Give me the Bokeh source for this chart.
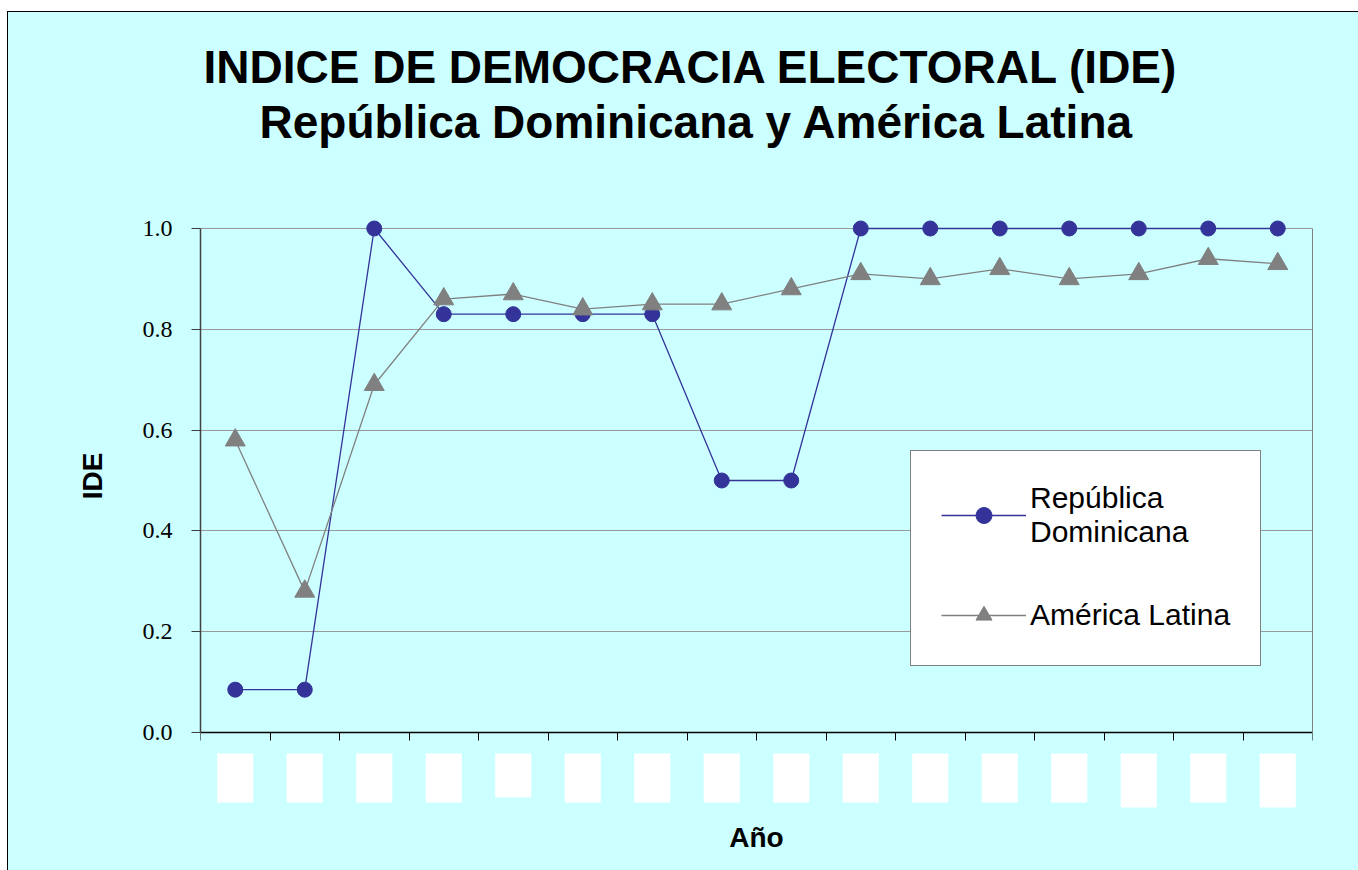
from bokeh.plotting import figure
from bokeh.models import (Range1d, FixedTicker, LinearAxis, Legend, LegendItem,
                          PrintfTickFormatter, Grid, Title)
from bokeh.core.properties import value
from bokeh.embed import file_html
from bokeh.resources import INLINE

# ---------------- data ----------------
# 16 consecutive periods; the year labels are masked (white boxes) in the original
period_index = list(range(1, 17))
rep_dominicana = [0.085, 0.085, 1.0, 0.83, 0.83, 0.83, 0.83, 0.50, 0.50,
                  1.0, 1.0, 1.0, 1.0, 1.0, 1.0, 1.0]
america_latina = [0.58, 0.28, 0.69, 0.86, 0.87, 0.84, 0.85, 0.85, 0.88,
                  0.91, 0.90, 0.92, 0.90, 0.91, 0.94, 0.93]
y_ticks = [0.0, 0.2, 0.4, 0.6, 0.8, 1.0]
series_names = ["República\nDominicana", "América Latina"]
title_lines = ["INDICE DE DEMOCRACIA ELECTORAL (IDE)",
               "República Dominicana y América Latina"]
x_title = "Año"
y_title = "IDE"

# ---------------- styling ----------------
BG = "#CCFFFF"
BLUE = "#333399"
GRAY = "#808080"
FONT = "Liberation Sans"
label_box_bottom = [-0.139, -0.139, -0.139, -0.139, -0.129, -0.139, -0.139, -0.139,
                    -0.139, -0.139, -0.139, -0.139, -0.139, -0.149, -0.139, -0.149]

p = figure(frame_width=1112, frame_height=708,
           x_range=Range1d(0.5, 16.5), y_range=Range1d(-0.24603, 1.15873),
           x_axis_type=None, y_axis_type=None,
           output_backend="svg", toolbar_location=None,
           min_border_left=192, min_border_right=46, min_border_top=136, min_border_bottom=14,
           background_fill_color=None, border_fill_color=None, outline_line_color=None,
           margin=(11, 0, 0, 7),
           styles={"border-left": "1px solid black", "border-top": "1px solid black",
                   "background-color": BG})

# horizontal gridlines
p.add_layout(Grid(dimension=1, ticker=FixedTicker(ticks=y_ticks[1:]),
                  grid_line_color="#9A9A9A", grid_line_width=1), "center")

# y axis (left)
yaxis = LinearAxis(ticker=FixedTicker(ticks=y_ticks), formatter=PrintfTickFormatter(format="%.1f"),
                   bounds=(0, 1),
                   axis_line_color="#404040", axis_line_width=1.5,
                   major_tick_line_color="#404040", major_tick_out=9, major_tick_in=0,
                   minor_tick_line_color=None,
                   major_label_text_font="Liberation Serif", major_label_text_font_size="24px",
                   major_label_text_color="black", major_label_standoff=19)
p.add_layout(yaxis, "left")
p.add_layout(Title(text=y_title, align="right", offset=304, standoff=64,
                   text_font=FONT, text_font_style="bold", text_font_size="28px",
                   text_color="black"), "left")

# right border of plot area
raxis = LinearAxis(ticker=FixedTicker(ticks=[]), bounds=(0, 1),
                   axis_line_color=GRAY, axis_line_width=1,
                   major_tick_line_color=None, minor_tick_line_color=None,
                   major_label_text_font_size="0px")
p.add_layout(raxis, "right")

# x axis at y = 0, ticks between categories
x_bounds = [period_index[0] - 0.5] + [i + 0.5 for i in period_index]
xaxis = LinearAxis(fixed_location=0, ticker=FixedTicker(ticks=x_bounds),
                   axis_line_color="black", axis_line_width=1.5,
                   major_tick_line_color="black", major_tick_out=8, major_tick_in=0,
                   minor_tick_line_color=None,
                   major_label_text_font_size="0px", major_label_text_color=None,
                   major_label_standoff=0)
p.add_layout(xaxis, "below")

# titles (second line nearest to the plot)
p.add_layout(Title(text=title_lines[1], align="left", offset=59, standoff=2,
                   text_font=FONT, text_font_style="bold", text_font_size="46px",
                   text_color="black"), "above")
p.add_layout(Title(text=title_lines[0], align="left", offset=3, standoff=0,
                   text_font=FONT, text_font_style="bold", text_font_size="46px",
                   text_color="black"), "above")

# masked year labels (white boxes)
p.quad(left=[i - 0.26 for i in period_index], right=[i + 0.26 for i in period_index],
       top=-0.0417, bottom=label_box_bottom, fill_color="white", line_color=None)

# x axis title
p.text(x=[(period_index[0] + period_index[-1]) / 2], y=[-0.2093], text=[x_title],
       text_align="center", text_baseline="middle", text_font=value(FONT),
       text_font_style="bold", text_font_size="28px", text_color="black")

# series
r_rd_line = p.line(period_index, rep_dominicana, line_color=BLUE, line_width=1.3)
r_rd_pts = p.scatter(period_index, rep_dominicana, marker="circle", size=15,
                     fill_color=BLUE, line_color=BLUE)
r_al_line = p.line(period_index, america_latina, line_color=GRAY, line_width=1.3)
r_al_pts = p.scatter(period_index, america_latina, marker="triangle", size=20,
                     fill_color=GRAY, line_color=GRAY)

legend = Legend(items=[LegendItem(label=value(series_names[0]), renderers=[r_rd_line, r_rd_pts]),
                       LegendItem(label=value(series_names[1]), renderers=[r_al_line, r_al_pts])],
                location=(710, 190), margin=0, padding=30, spacing=46,
                glyph_width=85, glyph_height=40, label_standoff=4,
                label_text_font=FONT, label_text_font_size="30px", label_text_color="black",
                border_line_color="black", border_line_width=1,
                background_fill_color="white", background_fill_alpha=1)
p.add_layout(legend, "center")

open("out.html", "w").write(file_html(p, INLINE))
